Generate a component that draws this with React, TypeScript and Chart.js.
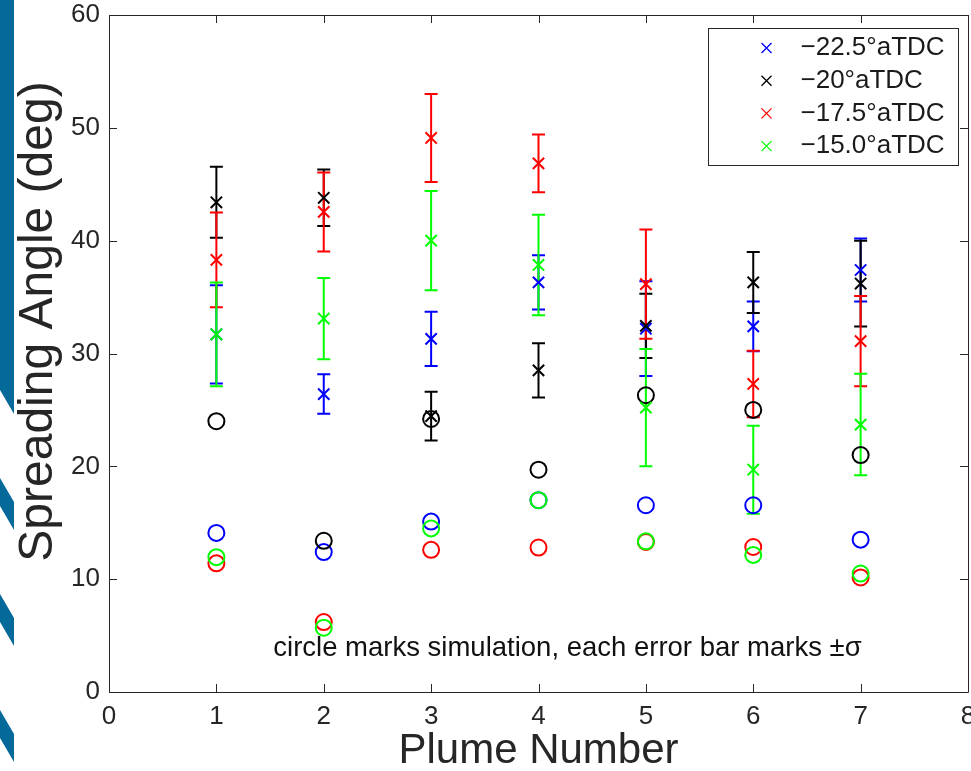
import React, { useEffect, useRef } from 'react';
import { Chart, registerables } from 'chart.js';

Chart.register(...registerables);

// ---------- data ----------
const plumes = [1, 2, 3, 4, 5, 6, 7];
const seriesLabels = ['−22.5°aTDC', '−20°aTDC', '−17.5°aTDC', '−15.0°aTDC'];
const seriesColors = ['#0000ff', '#000000', '#ff0000', '#00ff00'];

// measured mean spreading angle (x marks)
const meanBlue = [31.7, 26.4, 31.3, 36.3, 32.2, 32.4, 37.4];
const meanBlack = [43.4, 43.8, 24.45, 28.5, 32.45, 36.3, 36.2];
const meanRed = [38.3, 42.55, 49.1, 46.85, 36.15, 27.3, 31.1];
const meanGreen = [31.7, 33.1, 40.0, 37.85, 25.2, 19.7, 23.7];

// standard deviation (error bars, ±σ)
const sigmaBlue = [4.35, 1.75, 2.4, 2.4, 4.2, 2.2, 2.8];
const sigmaBlack = [3.15, 2.5, 2.15, 2.4, 2.85, 2.7, 3.8];
const sigmaRed = [4.2, 3.5, 3.9, 2.55, 4.85, 2.95, 4.0];
const sigmaGreen = [4.6, 3.6, 4.4, 4.45, 5.2, 3.9, 4.5];

// simulation results (circles)
const simBlue = [14.1, 12.4, 15.1, 17.0, 16.55, 16.55, 13.5];
const simBlack = [24.0, 13.4, 24.2, 19.7, 26.3, 25.0, 21.0];
const simRed = [11.4, 6.2, 12.6, 12.8, 13.3, 12.85, 10.15];
const simGreen = [11.95, 5.7, 14.5, 17.0, 13.35, 12.15, 10.5];

const xTicks = [0, 1, 2, 3, 4, 5, 6, 7, 8];
const yTicks = [0, 10, 20, 30, 40, 50, 60];

const xTitle = 'Plume Number';
const yTitle = 'Spreading Angle (deg)';
const noteText = 'circle marks simulation, each error bar marks ±σ';
const notePos = { x: 1.53, y: 3.85 };

const means = [meanBlue, meanBlack, meanRed, meanGreen];
const sigmas = [sigmaBlue, sigmaBlack, sigmaRed, sigmaGreen];
const sims = [simBlue, simBlack, simRed, simGreen];

const FONT = '"Liberation Sans", Arial, Helvetica, sans-serif';
const TEXT = '#262626';

// ---------- plugins ----------
const backgroundPlugin = {
  id: 'slideBackground',
  beforeDraw(chart: any) {
    const ctx = chart.ctx;
    ctx.save();
    ctx.fillStyle = '#ffffff';
    ctx.fillRect(0, 0, chart.width, chart.height);
    ctx.fillStyle = '#05699a';
    const w = 14;
    ctx.beginPath();
    ctx.moveTo(0, 0);
    ctx.lineTo(w, 0);
    ctx.lineTo(w, 414);
    ctx.lineTo(0, 390);
    ctx.closePath();
    ctx.fill();
    [478, 594, 710].forEach((y0) => {
      ctx.beginPath();
      ctx.moveTo(0, y0);
      ctx.lineTo(w, y0 + 24);
      ctx.lineTo(w, y0 + 52);
      ctx.lineTo(0, y0 + 28);
      ctx.closePath();
      ctx.fill();
    });
    ctx.restore();
  },
};

const errorBarPlugin = {
  id: 'errorBars',
  beforeDatasetsDraw(chart: any) {
    const ctx = chart.ctx;
    const xs = chart.scales.x;
    const ys = chart.scales.y;
    ctx.save();
    ctx.lineWidth = 2;
    ctx.lineCap = 'butt';
    means.forEach((m, si) => {
      ctx.strokeStyle = seriesColors[si];
      m.forEach((v, i) => {
        const s = sigmas[si][i];
        const px = xs.getPixelForValue(plumes[i]);
        const pTop = ys.getPixelForValue(v + s);
        const pBot = ys.getPixelForValue(v - s);
        ctx.beginPath();
        ctx.moveTo(px, pTop);
        ctx.lineTo(px, pBot);
        ctx.moveTo(px - 6.5, pTop);
        ctx.lineTo(px + 6.5, pTop);
        ctx.moveTo(px - 6.5, pBot);
        ctx.lineTo(px + 6.5, pBot);
        ctx.stroke();
      });
    });
    ctx.restore();
  },
};

const framePlugin = {
  id: 'frame',
  afterDatasetsDraw(chart: any) {
    const ctx = chart.ctx;
    const { left, right, top, bottom } = chart.chartArea;
    const xs = chart.scales.x;
    const ys = chart.scales.y;
    const tl = 8;
    ctx.save();
    ctx.strokeStyle = TEXT;
    ctx.lineWidth = 1;
    ctx.beginPath();
    ctx.rect(Math.round(left) + 0.5, Math.round(top) + 0.5, Math.round(right - left), Math.round(bottom - top));
    xTicks.forEach((v) => {
      const px = Math.round(xs.getPixelForValue(v)) + 0.5;
      ctx.moveTo(px, bottom);
      ctx.lineTo(px, bottom - tl);
      ctx.moveTo(px, top);
      ctx.lineTo(px, top + tl);
    });
    yTicks.forEach((v) => {
      const py = Math.round(ys.getPixelForValue(v)) + 0.5;
      ctx.moveTo(left, py);
      ctx.lineTo(left + tl, py);
      ctx.moveTo(right, py);
      ctx.lineTo(right - tl, py);
    });
    ctx.stroke();
    ctx.restore();
  },
};

const textPlugin = {
  id: 'texts',
  afterDatasetsDraw(chart: any) {
    const ctx = chart.ctx;
    const xs = chart.scales.x;
    const ys = chart.scales.y;
    const { top, bottom } = chart.chartArea;
    ctx.save();
    // annotation inside the axes
    ctx.font = `27.5px ${FONT}`;
    ctx.fillStyle = '#111111';
    ctx.textAlign = 'left';
    ctx.textBaseline = 'middle';
    ctx.fillText(noteText, xs.getPixelForValue(notePos.x), ys.getPixelForValue(notePos.y));
    // y-axis title
    ctx.translate(39, (top + bottom) / 2 - 32);
    ctx.rotate(-Math.PI / 2);
    ctx.font = `48px ${FONT}`;
    ctx.fillStyle = TEXT;
    ctx.textAlign = 'center';
    ctx.textBaseline = 'middle';
    ctx.fillText(yTitle, 0, 0);
    ctx.restore();
  },
};

const legendPlugin = {
  id: 'boxLegend',
  afterDraw(chart: any) {
    const ctx = chart.ctx;
    const { right, top } = chart.chartArea;
    const bw = 250;
    const bh = 137;
    const bx = Math.round(right - 10 - bw) + 0.5;
    const by = Math.round(top + 13) + 0.5;
    ctx.save();
    ctx.fillStyle = '#ffffff';
    ctx.fillRect(bx, by, bw, bh);
    ctx.strokeStyle = TEXT;
    ctx.lineWidth = 1;
    ctx.strokeRect(bx, by, bw, bh);
    ctx.font = `26px ${FONT}`;
    ctx.textBaseline = 'middle';
    ctx.textAlign = 'left';
    seriesLabels.forEach((lab, i) => {
      const cy = by + 19.5 + i * 32.7;
      const cx = bx + 58;
      const r = 5;
      ctx.strokeStyle = seriesColors[i];
      ctx.lineWidth = 1.3;
      ctx.beginPath();
      ctx.moveTo(cx - r, cy - r);
      ctx.lineTo(cx + r, cy + r);
      ctx.moveTo(cx - r, cy + r);
      ctx.lineTo(cx + r, cy - r);
      ctx.stroke();
      ctx.fillStyle = '#1a1a1a';
      ctx.fillText(lab, bx + 92, cy);
    });
    ctx.restore();
  },
};

// ---------- component ----------
export default function App() {
  const canvasRef = useRef<HTMLCanvasElement | null>(null);

  useEffect(() => {
    document.body.style.margin = '0';
    document.body.style.overflow = 'hidden';
    const canvas = canvasRef.current;
    if (!canvas) return;

    const order = [4, 3, 2, 1];
    const crossSets = means.map((m, si) => ({
      label: seriesLabels[si],
      data: m.map((v, i) => ({ x: plumes[i], y: v })),
      pointStyle: 'crossRot',
      pointRadius: 8,
      pointBorderWidth: 2,
      pointBorderColor: seriesColors[si],
      pointBackgroundColor: seriesColors[si],
      showLine: false,
      order: order[si],
    }));
    const circleSets = sims.map((m, si) => ({
      label: seriesLabels[si] + ' sim',
      data: m.map((v, i) => ({ x: plumes[i], y: v })),
      pointStyle: 'circle',
      pointRadius: 8,
      pointBorderWidth: 2,
      pointBorderColor: seriesColors[si],
      pointBackgroundColor: 'rgba(0,0,0,0)',
      showLine: false,
      order: order[si],
    }));

    const chart = new Chart(canvas, {
      type: 'scatter',
      data: { datasets: [...crossSets, ...circleSets] as any },
      options: {
        animation: false,
        responsive: false,
        devicePixelRatio: 1,
        events: [],
        layout: { autoPadding: false, padding: { left: 0, right: 3, top: 15, bottom: 0 } },
        plugins: {
          legend: { display: false },
          tooltip: { enabled: false },
        },
        scales: {
          x: {
            type: 'linear',
            min: 0,
            max: 8,
            afterBuildTicks: (s: any) => {
              s.ticks = xTicks.map((v) => ({ value: v }));
            },
            afterFit: (s: any) => {
              s.height = 79;
              s.paddingLeft = 0;
              s.paddingRight = 0;
            },
            ticks: {
              autoSkip: false,
              maxRotation: 0,
              padding: 9,
              color: TEXT,
              font: { family: FONT, size: 26 },
            },
            grid: { display: false, drawTicks: false },
            border: { display: false },
            title: {
              display: true,
              text: xTitle,
              color: TEXT,
              font: { family: FONT, size: 42, lineHeight: 0.9 },
              padding: { top: 0, bottom: 1 },
            },
          },
          y: {
            type: 'linear',
            min: 0,
            max: 60,
            afterBuildTicks: (s: any) => {
              s.ticks = yTicks.map((v) => ({ value: v }));
            },
            afterFit: (s: any) => {
              s.width = 109;
              s.paddingTop = 0;
              s.paddingBottom = 0;
            },
            ticks: {
              autoSkip: false,
              padding: 9,
              color: TEXT,
              font: { family: FONT, size: 26 },
            },
            grid: { display: false, drawTicks: false },
            border: { display: false },
            title: { display: false, text: yTitle },
          },
        },
      },
      plugins: [backgroundPlugin, errorBarPlugin, framePlugin, textPlugin, legendPlugin],
    } as any);

    return () => {
      chart.destroy();
    };
  }, []);

  return (
    <canvas
      ref={canvasRef}
      width={971}
      height={771}
      style={{ display: 'block', width: 971, height: 771 }}
    />
  );
}
